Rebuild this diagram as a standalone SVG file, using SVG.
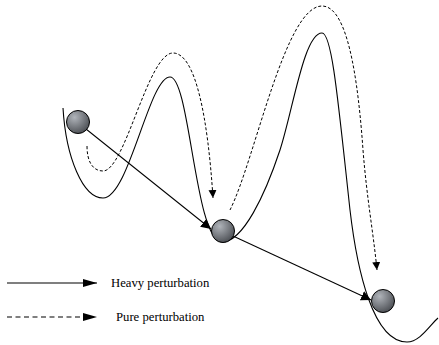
<svg xmlns="http://www.w3.org/2000/svg" width="439" height="345" viewBox="0 0 439 345">
<style>
.curve{fill:none;stroke:#000;stroke-width:1.1}
.dash{fill:none;stroke:#000;stroke-width:1;stroke-dasharray:3,2}
.arrow{fill:none;stroke:#000;stroke-width:1.1}
.ball{fill:url(#g);stroke:#000;stroke-width:1}
.lbl{font-family:"Liberation Serif",serif;font-size:12.7px;fill:#000}
</style>
<defs>
<radialGradient id="g" cx="0.35" cy="0.3" r="0.8">
<stop offset="0" stop-color="#b0b4ba"/>
<stop offset="1" stop-color="#44474c"/>
</radialGradient>
<marker id="ah" markerUnits="userSpaceOnUse" markerWidth="10" markerHeight="10" viewBox="0 0 10 10" refX="10" refY="5" orient="auto">
<path d="M0,0 L10,5 L0,10 Z" fill="#000"/>
</marker>
<marker id="ahs" markerUnits="userSpaceOnUse" markerWidth="8" markerHeight="8" viewBox="0 0 10 10" refX="10" refY="5" orient="auto">
<path d="M0,0 L10,5 L0,10 Z" fill="#000"/>
</marker>
<marker id="ahl" markerUnits="userSpaceOnUse" markerWidth="14" markerHeight="8" viewBox="0 0 14 8" refX="14" refY="4" orient="auto">
<path d="M0,0 L14,4 L0,8 Z" fill="#000"/>
</marker>
</defs>
<g id="connectors">
<path id="landscape" class="curve" d="M63,108 C66,158 83,198 103,198 C129,198 149,77 170,77 C190,77 195,242 222,242 C243,242 265,195 280,150 C293,110 304,33 322,33 C332,33 338,100 350,210 C357,270 373,342 407,342 C420,342 430,325 438,318"/>
<path id="pure1" class="dash" marker-end="url(#ahs)" d="M87,146 C87,162 93,171 103,171 C125,171 148,53 173,53 C196,53 208,120 213,198"/>
<path id="pure2" class="dash" marker-end="url(#ahs)" d="M230,210 C255,160 285,6 322,6 C342,6 356,50 363,150 C367,200 373,230 377,270"/>
<line id="heavy1" class="arrow" marker-end="url(#ah)" x1="86" y1="129" x2="211" y2="229"/>
<line id="heavy2" class="arrow" marker-end="url(#ah)" x1="233" y1="236" x2="371" y2="300"/>
</g>
<g id="ball1"><circle class="ball" cx="78" cy="122" r="11.5"/></g>
<g id="ball2"><circle class="ball" cx="223" cy="231" r="11.5"/></g>
<g id="ball3"><circle class="ball" cx="383" cy="301" r="11.5"/></g>
<g id="legend">
<line class="arrow" marker-end="url(#ahl)" x1="7" y1="283" x2="97" y2="283"/>
<line stroke="#555" stroke-width="1.3" stroke-dasharray="5,3.5" x1="7" y1="317" x2="90" y2="317"/>
<path d="M83,313 L97,317 L83,321 Z" fill="#000"/>
<text class="lbl" x="111" y="287">Heavy perturbation</text>
<text class="lbl" x="116" y="321">Pure perturbation</text>
</g>
</svg>
